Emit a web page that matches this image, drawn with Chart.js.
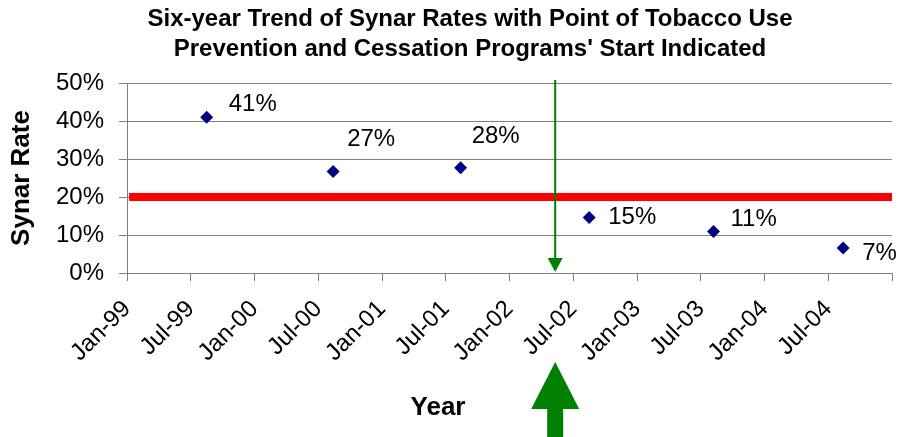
<!DOCTYPE html>
<html>
<head>
<meta charset="utf-8">
<script src="https://cdn.jsdelivr.net/npm/chart.js@4.4.1/dist/chart.umd.min.js"></script>
<style>
  html, body { margin: 0; padding: 0; background: #fff; }
  #wrap { width: 904px; height: 437px; }
</style>
</head>
<body>
<div id="wrap"><canvas id="synarChart"></canvas></div>
<script>
// dati (x = mesi dopo gennaio 1999)
const surveyMonths = [7.5, 19.4, 31.4, 43.5, 55.2, 67.4];
const synarRates = [41, 26.7, 27.7, 14.6, 10.9, 6.6];
const rateLabels = ['41%', '27%', '28%', '15%', '11%', '7%'];
const xTickLabels = ['Jan-99', 'Jul-99', 'Jan-00', 'Jul-00', 'Jan-01', 'Jul-01', 'Jan-02',
  'Jul-02', 'Jan-03', 'Jul-03', 'Jan-04', 'Jul-04', ''];
const titleLines = ["Six-year Trend of Synar Rates with Point of Tobacco Use",
  "Prevention and Cessation Programs' Start Indicated"];
const targetRate = 20;
const programStart = 40.3; // circa maggio 2002
const xRange = [0, 72];

// spostamento delle etichette rispetto al punto
const labelOffsets = [[22, -13], [14, -32], [11, -31], [19, 0], [17, -12], [19, 5]];

const FONT = '"Liberation Sans", Arial, sans-serif';
const GREEN = '#008000';

// titolo, etichette dei punti, titolo "Year" e frecce verdi
const extras = {
  id: 'extras',
  afterDatasetsDraw(chart) {
    const { ctx, scales: { x, y } } = chart;
    ctx.save();
    // titolo (un po' spostato a destra come nell'originale)
    ctx.fillStyle = '#000';
    ctx.font = 'bold 24px ' + FONT;
    ctx.textAlign = 'center';
    ctx.textBaseline = 'middle';
    ctx.fillText(titleLines[0], 470, 19);
    ctx.fillText(titleLines[1], 470, 49);

    // freccia verticale nel grafico
    const px = x.getPixelForValue(programStart);
    const top = y.getPixelForValue(50) - 3;
    const bottom = y.getPixelForValue(0);
    ctx.strokeStyle = GREEN;
    ctx.lineWidth = 2;
    ctx.beginPath();
    ctx.moveTo(px, top);
    ctx.lineTo(px, bottom - 12);
    ctx.stroke();
    ctx.fillStyle = GREEN;
    ctx.beginPath();
    ctx.moveTo(px - 7.5, bottom - 15);
    ctx.lineTo(px + 7.5, bottom - 15);
    ctx.lineTo(px, bottom - 1);
    ctx.closePath();
    ctx.fill();

    // freccia grande sotto l'asse
    const tipY = 362, baseY = 409, endY = chart.height;
    ctx.beginPath();
    ctx.moveTo(px, tipY);
    ctx.lineTo(px + 24, baseY);
    ctx.lineTo(px + 8, baseY);
    ctx.lineTo(px + 8, endY);
    ctx.lineTo(px - 8, endY);
    ctx.lineTo(px - 8, baseY);
    ctx.lineTo(px - 24, baseY);
    ctx.closePath();
    ctx.fill();

    // titolo asse x (spostato a sinistra come nell'originale)
    ctx.fillStyle = '#000';
    ctx.font = 'bold 26px ' + FONT;
    ctx.fillText('Year', 438, 408);

    // etichette percentuali
    const meta = chart.getDatasetMeta(0);
    ctx.font = '24px ' + FONT;
    ctx.textAlign = 'left';
    meta.data.forEach((pt, i) => {
      const off = labelOffsets[i];
      ctx.fillText(rateLabels[i], pt.x + off[0], pt.y + off[1]);
    });
    ctx.restore();
  }
};

new Chart(document.getElementById('synarChart'), {
  type: 'scatter',
  data: {
    datasets: [{
      label: 'Synar Rate',
      data: surveyMonths.map((m, i) => ({ x: m, y: synarRates[i] })),
      pointStyle: 'rectRot',
      pointRadius: 6.5,
      pointHoverRadius: 6.5,
      backgroundColor: '#000080',
      borderColor: '#000080',
      borderWidth: 0,
      order: 0
    }, {
      type: 'line',
      label: 'Target',
      data: [{ x: xRange[0] + 0.2, y: targetRate }, { x: xRange[1], y: targetRate }],
      borderColor: '#ff0000',
      borderWidth: 8,
      pointRadius: 0,
      order: 1
    }]
  },
  options: {
    responsive: true,
    maintainAspectRatio: false,
    animation: false,
    events: [],
    layout: { padding: { left: 0, right: 12, top: 83, bottom: 0 } },
    plugins: {
      legend: { display: false },
      tooltip: { enabled: false },
      title: { display: false }
    },
    scales: {
      x: {
        type: 'linear',
        min: xRange[0],
        max: xRange[1],
        afterFit(scale) {
          scale.height = 164;
          scale.paddingLeft = 0;
          scale.paddingRight = 0;
        },
        afterBuildTicks(scale) {
          scale.ticks = xTickLabels.map((_, i) => ({ value: xRange[0] + i * 6 }));
        },
        ticks: {
          autoSkip: false,
          minRotation: 45,
          maxRotation: 45,
          padding: 14,
          color: '#000',
          font: { family: FONT, size: 24 },
          callback: (v) => xTickLabels[Math.round(v / 6)]
        },
        grid: { drawOnChartArea: false, tickLength: 8, color: '#808080' },
        border: { color: '#808080', width: 1 },
        title: { display: false, text: 'Year' }
      },
      y: {
        min: 0,
        max: 50,
        afterFit(scale) {
          scale.width = 127;
          scale.paddingTop = 0;
          scale.paddingBottom = 0;
        },
        ticks: {
          stepSize: 10,
          padding: 15,
          color: '#000',
          font: { family: FONT, size: 24 },
          callback: (v) => v + '%'
        },
        grid: { color: '#808080', tickLength: 8 },
        border: { color: '#808080', width: 1 },
        title: {
          display: true,
          text: 'Synar Rate',
          color: '#000',
          font: { family: FONT, size: 26, weight: 'bold' },
          padding: { top: 6, bottom: 0 }
        }
      }
    }
  },
  plugins: [extras]
});
</script>
</body>
</html>
